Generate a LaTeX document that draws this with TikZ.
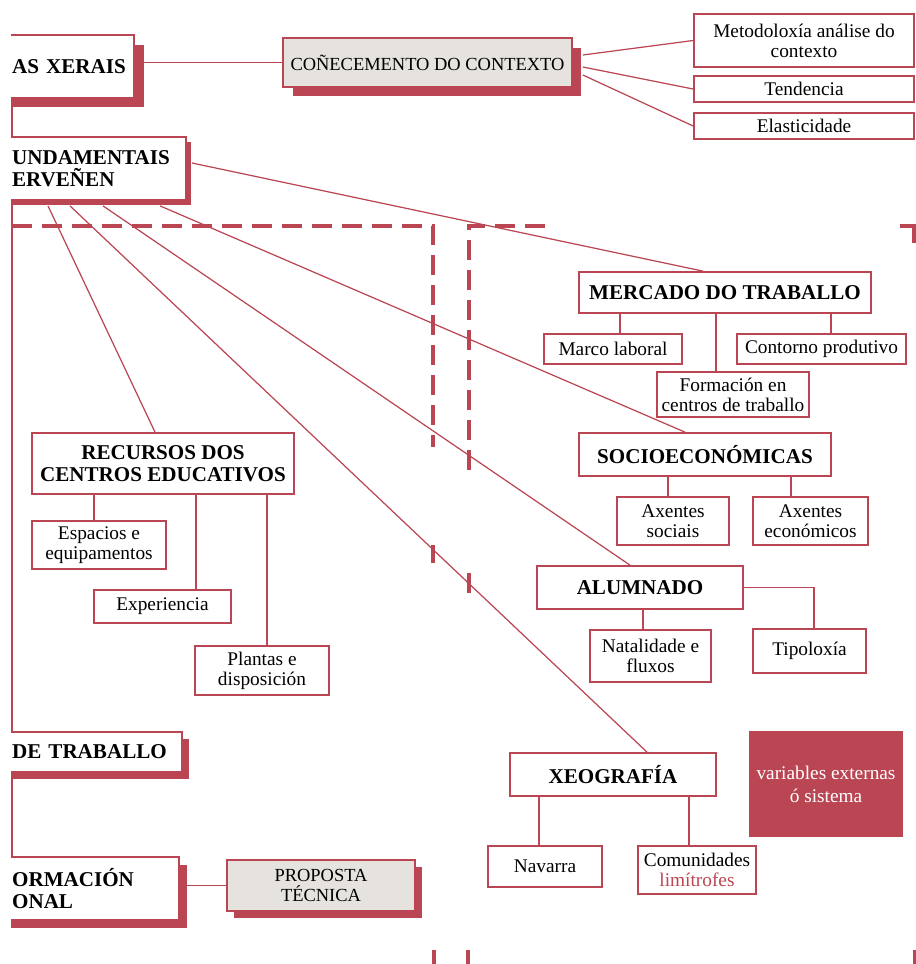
\documentclass[tikz,border=0pt]{standalone}
\usepackage{fontspec}
\setmainfont{Liberation Serif}
\usetikzlibrary{calc,shadows}
\definecolor{vermello}{RGB}{186,70,84}
\definecolor{gris}{RGB}{230,226,222}
\newcommand{\recuo}{\hspace*{0.4cm}}
\tikzset{
  caixa/.style={draw=vermello, line width=1pt, fill=white, align=center, inner sep=1pt, font=\fontsize{11}{11.5}\selectfont},
  titulo/.style={caixa, font=\bfseries\fontsize{12}{12.5}\selectfont},
  sombra/.style={drop shadow={shadow xshift=#1, shadow yshift=-#1, fill=vermello, opacity=1}},
  sombra/.default=0.19cm,
  fio/.style={draw=vermello, line width=0.7pt},
  trazo/.style={draw=vermello, line width=1.8pt, dash pattern=on 0.4cm off 0.2cm}
}
\begin{document}
\begin{tikzpicture}[x=0.02cm, y=-0.02cm]
\useasboundingbox (0,0) rectangle (916,964);
\clip (11,0) rectangle (916,964);
\draw[trazo] (12,226) -- (433,226) -- (433,447);
\draw[trazo] (545,226) -- (469,226) -- (469,475);
\draw[vermello, line width=1.8pt] (900,226) -- (914,226) -- (914,243);
\draw[vermello, line width=1.8pt] (433,545) -- (433,563);
\draw[vermello, line width=1.8pt] (469,573) -- (469,593);
\draw[vermello, line width=1.8pt] (434,950) -- (434,964);
\draw[vermello, line width=1.8pt] (468,950) -- (468,964);
\draw[vermello, line width=1.8pt] (915,950) -- (915,964);
\node (xerais) at (135,66.5) [titulo, sombra, anchor=east, minimum height=1.26cm, text width=2.74cm, align=left, inner xsep=0.1cm] {\recuo AS XERAIS};
\node (fund) at (187,168.5) [titulo, sombra=0.1cm, anchor=east, minimum height=1.26cm, text width=3.78cm, align=left, inner xsep=0.1cm] {\recuo UNDAMENTAIS\\\recuo ERVEÑEN};
\node (ctx) at (427.5,62.5) [caixa, sombra, fill=gris, minimum width=5.78cm, minimum height=0.98cm, font=\fontsize{10.5}{12}\selectfont] {COÑECEMENTO DO CONTEXTO};
\node (met) at (804,40.5) [caixa, minimum width=4.4cm, minimum height=1.06cm] {Metodoloxía análise do\\contexto};
\node (tend) at (804,89) [caixa, minimum width=4.4cm, minimum height=0.52cm] {Tendencia};
\node (elas) at (804,126) [caixa, minimum width=4.4cm, minimum height=0.52cm] {Elasticidade};
\node (merc) at (725,292.5) [titulo, minimum width=5.84cm, minimum height=0.82cm] {MERCADO DO TRABALLO};
\node (marco) at (613,349) [caixa, minimum width=2.76cm, minimum height=0.6cm] {Marco laboral};
\node (cont) at (821.5,349) [caixa, minimum width=3.38cm, minimum height=0.6cm] {Contorno produtivo};
\node (fct) at (733,394.5) [caixa, minimum width=3.04cm, minimum height=0.9cm] {Formación en\\centros de traballo};
\node (socio) at (705,454.5) [titulo, minimum width=5.04cm, minimum height=0.86cm] {SOCIOECONÓMICAS};
\node (axs) at (673,521) [caixa, minimum width=2.24cm, minimum height=0.96cm] {Axentes\\sociais};
\node (axe) at (810.5,521) [caixa, minimum width=2.3cm, minimum height=0.96cm] {Axentes\\económicos};
\node (alum) at (640,587.5) [titulo, minimum width=4.12cm, minimum height=0.86cm] {ALUMNADO};
\node (nat) at (650.5,656) [caixa, minimum width=2.42cm, minimum height=1.04cm] {Natalidade e\\fluxos};
\node (tipo) at (809.5,651) [caixa, minimum width=2.26cm, minimum height=0.88cm] {Tipoloxía};
\node (xeo) at (613,774.5) [titulo, minimum width=4.12cm, minimum height=0.86cm] {XEOGRAFÍA};
\node (nav) at (545,866.5) [caixa, minimum width=2.28cm, minimum height=0.82cm] {Navarra};
\node (lim) at (697,870) [caixa, minimum width=2.36cm, minimum height=0.96cm] {Comunidades\\\textcolor{vermello}{limítrofes}};
\node (ext) at (826,784) [fill=vermello, text=white, minimum width=3.08cm, minimum height=2.12cm, align=center, font=\fontsize{11}{13}\selectfont] {variables externas\\ó sistema};
\node (rec) at (163,463.5) [titulo, minimum width=5.24cm, minimum height=1.22cm] {RECURSOS DOS\\CENTROS EDUCATIVOS};
\node (esp) at (99,545) [caixa, minimum width=2.68cm, minimum height=0.96cm] {Espacios e\\equipamentos};
\node (exp) at (162.5,606.5) [caixa, minimum width=2.74cm, minimum height=0.66cm] {Experiencia};
\node (pla) at (262,670.5) [caixa, minimum width=2.68cm, minimum height=0.98cm] {Plantas e\\disposición};
\node (trab) at (183,752) [titulo, sombra=0.14cm, anchor=east, minimum height=0.8cm, text width=3.7cm, align=left, inner xsep=0.1cm] {\recuo DE TRABALLO};
\node (form) at (180,888.5) [titulo, sombra=0.15cm, anchor=east, minimum height=1.26cm, text width=3.64cm, align=left, inner xsep=0.1cm] {\recuo ORMACIÓN\\\recuo ONAL};
\node (prop) at (321,885.5) [caixa, sombra=0.14cm, fill=gris, minimum width=3.76cm, minimum height=1.02cm, font=\fontsize{10.5}{11.5}\selectfont] {PROPOSTA\\TÉCNICA};
\coordinate (espina) at (12,0);
\draw[fio] (xerais.south -| espina) -- (fund.north -| espina);
\draw[fio] (fund.south -| espina) -- (trab.north -| espina);
\draw[fio] (trab.south -| espina) -- (form.north -| espina);
\draw[fio] (ctx.west) -- (ctx.west -| xerais.east);
\draw[fio] ($(ctx.east)+(10,-7.5)$) -- (met.west);
\draw[fio] ($(ctx.east)+(10,4.5)$) -- (tend.west);
\draw[fio] ($(ctx.east)+(10,12.5)$) -- (elas.west);
\draw[fio] ($(fund.east)+(5,-5.5)$) -- ($(merc.north)+(-22,0)$);
\draw[fio] ($(fund.south east)+(-27,5)$) -- ($(socio.north)+(-20,0)$);
\draw[fio] ($(fund.south east)+(-84,5)$) -- ($(alum.north)+(-10,0)$);
\draw[fio] ($(fund.south east)+(-117,5)$) -- ($(xeo.north)+(34,0)$);
\draw[fio] ($(fund.south east)+(-139,5)$) -- ($(rec.north)+(-8,0)$);
\draw[fio] ($(esp.north)+(-5,0)$) coordinate (a) -- (a |- rec.south);
\draw[fio] ($(exp.north)+(33.5,0)$) coordinate (a) -- (a |- rec.south);
\draw[fio] ($(pla.north)+(5,0)$) coordinate (a) -- (a |- rec.south);
\draw[fio] ($(marco.north)+(7,0)$) coordinate (a) -- (a |- merc.south);
\draw[fio] ($(cont.north)+(9.5,0)$) coordinate (a) -- (a |- merc.south);
\draw[fio] ($(fct.north)+(-17,0)$) coordinate (a) -- (a |- merc.south);
\draw[fio] ($(axs.north)+(-5,0)$) coordinate (a) -- (a |- socio.south);
\draw[fio] ($(axe.north)+(-19.5,0)$) coordinate (a) -- (a |- socio.south);
\draw[fio] ($(nat.north)+(-7.5,0)$) coordinate (a) -- (a |- alum.south);
\draw[fio] (alum.east) -| ($(tipo.north)+(4.5,0)$);
\draw[fio] ($(nav.north)+(-6,0)$) coordinate (a) -- (a |- xeo.south);
\draw[fio] ($(lim.north)+(-8,0)$) coordinate (a) -- (a |- xeo.south);
\draw[fio] (prop.west -| form.east) -- (prop.west);
\end{tikzpicture}
\end{document}
